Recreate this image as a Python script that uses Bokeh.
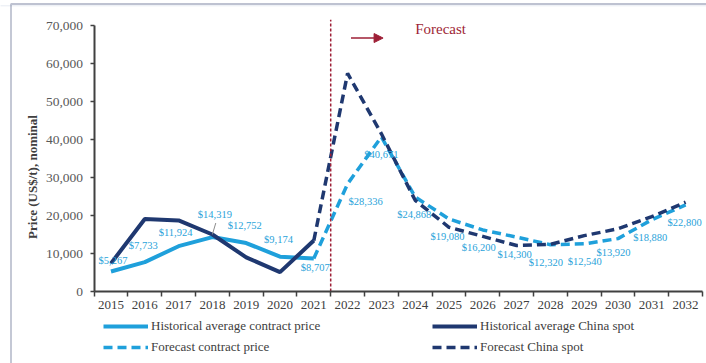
import math
from bokeh.plotting import figure
from bokeh.models import (ColumnDataSource, FixedTicker, Arrow, NormalHead, Label,
                          Legend, LegendItem, NumeralTickFormatter, BoxAnnotation)
from bokeh.embed import file_html
from bokeh.resources import INLINE
from bokeh.core.properties import value

# ---- data -------------------------------------------------------------
hist_years = [2015, 2016, 2017, 2018, 2019, 2020, 2021]
hist_contract = [5267, 7733, 11924, 14319, 12752, 9174, 8707]
hist_spot = [7400, 19100, 18700, 15000, 9000, 5100, 13400]

fc_years = [2021, 2022, 2023, 2024, 2025, 2026, 2027, 2028, 2029, 2030, 2031, 2032]
fc_contract = [8707, 28336, 40671, 24868, 19080, 16200, 14300, 12320, 12540, 13920, 18880, 22800]
fc_spot = [13400, 57400, 41500, 24000, 16900, 14500, 12100, 12400, 14700, 16500, 19700, 23500]

all_years = list(range(2015, 2033))
y_ticks = [0, 10000, 20000, 30000, 40000, 50000, 60000, 70000]
forecast_start = 2021.5

# ---- styling ----------------------------------------------------------
LIGHT = "#1FA0DB"
DARK = "#1F3870"
LABEL_BLUE = "#2AA3DA"
RED = "#9E1F36"
SERIF = "Liberation Serif"

# The plot area covers the whole canvas; axes sit at fixed data locations so
# the legend, axis title and frame border can be drawn inside it.
p = figure(width=706, height=363, x_range=(2011.731, 2032.618), y_range=(-18947, 76579),
           output_backend="svg", toolbar_location=None,
           min_border=0, min_border_left=0, min_border_right=0,
           min_border_top=0, min_border_bottom=0)
p.outline_line_color = None
p.grid.visible = False
p.background_fill_color = "white"
p.border_fill_color = "white"

# y axis
p.yaxis.fixed_location = 2014.5
p.yaxis.bounds = (0, 70000)
p.yaxis.ticker = FixedTicker(ticks=y_ticks)
p.yaxis.formatter = NumeralTickFormatter(format="0,0")
p.yaxis.axis_line_color = "#404040"
p.yaxis.axis_line_width = 2
p.yaxis.major_tick_line_color = "#404040"
p.yaxis.major_tick_line_width = 1.5
p.yaxis.major_tick_out = 4
p.yaxis.major_tick_in = 0
p.yaxis.minor_tick_line_color = None
p.yaxis.major_label_standoff = 7
p.yaxis.major_label_text_font = SERIF
p.yaxis.major_label_text_font_size = "13.5px"
p.yaxis.major_label_text_color = "#595959"

# x axis: labels at year centres, ticks on the boundaries between years
p.xaxis.fixed_location = 0
p.xaxis.bounds = (2014.5, 2032.5)
p.xaxis.ticker = FixedTicker(ticks=all_years, minor_ticks=[y - 0.5 for y in all_years] + [2032.5])
p.xaxis.axis_line_color = "#404040"
p.xaxis.axis_line_width = 2
p.xaxis.major_tick_line_color = None
p.xaxis.major_tick_out = 5
p.xaxis.major_tick_in = 0
p.xaxis.minor_tick_line_color = "#404040"
p.xaxis.minor_tick_line_width = 1.5
p.xaxis.minor_tick_out = 5
p.xaxis.minor_tick_in = 0
p.xaxis.major_label_standoff = 4
p.xaxis.major_label_text_font = SERIF
p.xaxis.major_label_text_font_size = "13px"
p.xaxis.major_label_text_color = "#404040"

# y-axis title
p.add_layout(Label(x=32, y=186.5, x_units="screen", y_units="screen",
                   text="Price (US$/t), nominal", angle=math.pi / 2,
                   text_font=SERIF, text_font_size="13px", text_font_style="bold",
                   text_color="#404040", text_align="center", text_baseline="middle"))

# ---- series -----------------------------------------------------------
r_hc = p.line(hist_years, hist_contract, line_color=LIGHT, line_width=4)
r_hs = p.line(hist_years, hist_spot, line_color=DARK, line_width=4)
r_fc = p.line(fc_years, fc_contract, line_color=LIGHT, line_width=3.5, line_dash="9 5")
r_fs = p.line(fc_years, fc_spot, line_color=DARK, line_width=3.5, line_dash="9 5")

# forecast divider, arrow and caption
p.segment(x0=[forecast_start], y0=[0], x1=[forecast_start], y1=[71500],
          line_color=RED, line_width=1.5, line_dash="3 2")
p.add_layout(Arrow(end=NormalHead(size=9, fill_color=RED, line_color=RED),
                   x_start=2022.1, y_start=66700, x_end=2023.05, y_end=66700,
                   line_color=RED, line_width=1.5))
p.add_layout(Label(x=2024.0, y=69200, text="Forecast", text_font=SERIF,
                   text_font_size="15px", text_color=RED, text_baseline="middle"))

# contract price value labels
lab_years = hist_years + fc_years[1:]
lab_vals = hist_contract + fc_contract[1:]
dx = [2, -1.5, -3, 2.5, -1.5, -1.5, 1.5,
      18, 0, -1, -1.5, -4, -2, -4.5, 0.5, -4.5, -1.5, -1]
dy = [-11, -17, -14, -22.5, -17.5, -17, 9,
      17.4, 17.6, 17.5, 17.5, 17.6, 17.3, 17.8, 17.7, 14, 17.7, 17.6]
lab_src = ColumnDataSource(dict(x=lab_years, y=lab_vals,
                                text=[f"${v:,}" for v in lab_vals], dx=dx, dy=dy))
p.text(x="x", y="y", text="text", x_offset="dx", y_offset="dy", source=lab_src,
       text_font=value(SERIF), text_font_size="10.5px", text_color=LABEL_BLUE,
       text_align="center", text_baseline="middle")

# leader line for the 2018 label
lead_v = hist_contract[3]
p.segment(x0=[2018.0], y0=[lead_v + 700], x1=[2018.1], y1=[lead_v + 3700],
          line_color="#8C8C8C", line_width=1)

# legend under the x axis (filled column by column)
legend = Legend(items=[
    LegendItem(label="Historical average contract price", renderers=[r_hc]),
    LegendItem(label="Forecast contract price", renderers=[r_fc]),
    LegendItem(label="Historical average China spot", renderers=[r_hs]),
    LegendItem(label="Forecast China spot", renderers=[r_fs]),
], ncols=2, location=(103, 6))
legend.border_line_color = None
legend.background_fill_alpha = 0
legend.padding = 0
legend.margin = 0
legend.spacing = 1
legend.glyph_width = 45
legend.glyph_height = 20
legend.label_height = 20
legend.label_standoff = 3
legend.label_width = 280
legend.label_text_font = SERIF
legend.label_text_font_size = "13px"
legend.label_text_color = "#404040"
p.add_layout(legend)

# frame border (left and top edges visible) with a light inner rule on top
p.add_layout(BoxAnnotation(left=-10, right=900, top=5.3, bottom=900,
                           left_units="canvas", right_units="canvas",
                           top_units="canvas", bottom_units="canvas",
                           fill_alpha=0, line_color="#B3BDD6", line_width=1))
p.add_layout(BoxAnnotation(left=10.5, right=900, top=3.5, bottom=900,
                           left_units="canvas", right_units="canvas",
                           top_units="canvas", bottom_units="canvas",
                           fill_alpha=0, line_color="#283668", line_width=1.8))

open("out.html", "w").write(file_html(p, INLINE))
